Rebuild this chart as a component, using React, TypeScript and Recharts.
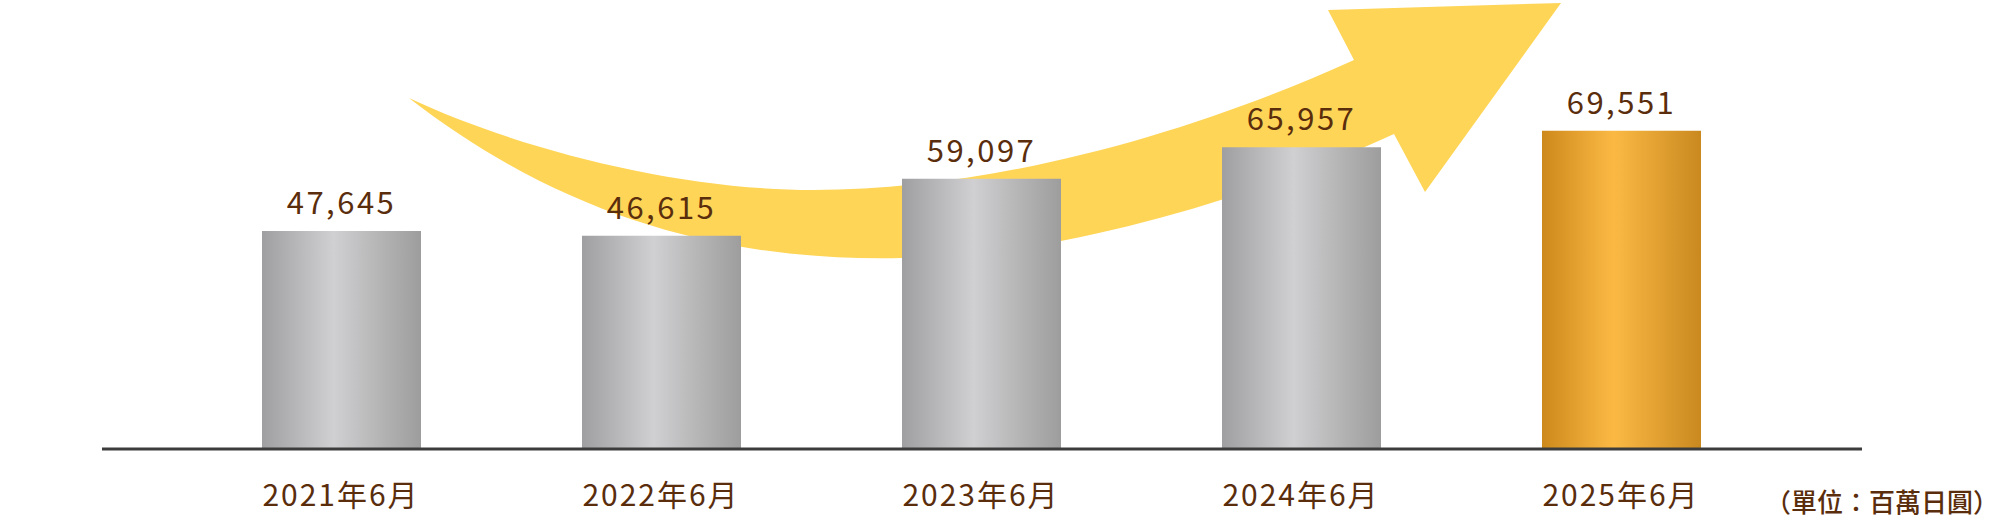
import React from 'react';
import { Bar, BarChart, Cell, LabelList, XAxis, YAxis } from 'recharts';

const categories = ['2021年6月', '2022年6月', '2023年6月', '2024年6月', '2025年6月'];
const values = [47645, 46615, 59097, 65957, 69551];
const highlighted = [false, false, false, false, true];
const unitLabel = '（單位：百萬日圓）';

const data = categories.map((label, i) => ({ label, value: values[i] }));

const TEXT = '#5a2d0c';
const FONT = '"Noto Sans CJK JP", "Noto Sans CJK TC", sans-serif';

// decorative growth arrow behind the bars
const ARROW =
  'M409 98 C520 150 680 190 813 190 C1000 190 1200 130 1354 60 L1328 10 L1561 3 L1425 192 L1394 134 ' +
  'C1250 200 1050 258 902 258 C720 262 560 215 409 98 Z';

export default function App() {
  return (
    <div style={{ position: 'absolute', left: 0, top: 0, width: 2000, height: 518, background: '#ffffff' }}>
      <svg width={2000} height={518} style={{ position: 'absolute', left: 0, top: 0 }}>
        <path d={ARROW} fill="#fed557" />
        <text
          x={1999}
          y={512}
          textAnchor="end"
          fill={TEXT}
          fontSize={26}
          fontWeight={500}
          fontFamily='"Noto Sans CJK TC", sans-serif'
        >
          {unitLabel}
        </text>
      </svg>
      <div style={{ position: 'absolute', left: 0, top: 0 }}>
        <BarChart width={2000} height={518} data={data} margin={{ top: 83, right: 138, bottom: 0, left: 102 }}>
          <defs>
            <linearGradient id="grayFill" x1="0" y1="0" x2="1" y2="0">
              <stop offset="0%" stopColor="#9f9fa1" />
              <stop offset="45%" stopColor="#d0cfd1" />
              <stop offset="100%" stopColor="#9d9d9d" />
            </linearGradient>
            <linearGradient id="goldFill" x1="0" y1="0" x2="1" y2="0">
              <stop offset="0%" stopColor="#cd891b" />
              <stop offset="45%" stopColor="#fbb944" />
              <stop offset="100%" stopColor="#c9891f" />
            </linearGradient>
          </defs>
          <XAxis
            dataKey="label"
            height={69}
            interval={0}
            padding={{ left: 79, right: 81 }}
            axisLine={{ stroke: '#3c3c3c', strokeWidth: 3 }}
            tickLine={false}
            tickMargin={30}
            tick={{ fill: TEXT, fontSize: 30, fontFamily: FONT, letterSpacing: 2 }}
          />
          <YAxis hide domain={[0, 80000]} />
          <Bar dataKey="value" barSize={159} isAnimationActive={false}>
            {values.map((_, i) => (
              <Cell key={categories[i]} fill={highlighted[i] ? 'url(#goldFill)' : 'url(#grayFill)'} />
            ))}
            <LabelList
              dataKey="value"
              position="top"
              offset={17}
              formatter={(v: number) => v.toLocaleString('en-US')}
              fill={TEXT}
              fontSize={31}
              fontFamily={FONT}
              letterSpacing={2.5}
            />
          </Bar>
        </BarChart>
      </div>
    </div>
  );
}
